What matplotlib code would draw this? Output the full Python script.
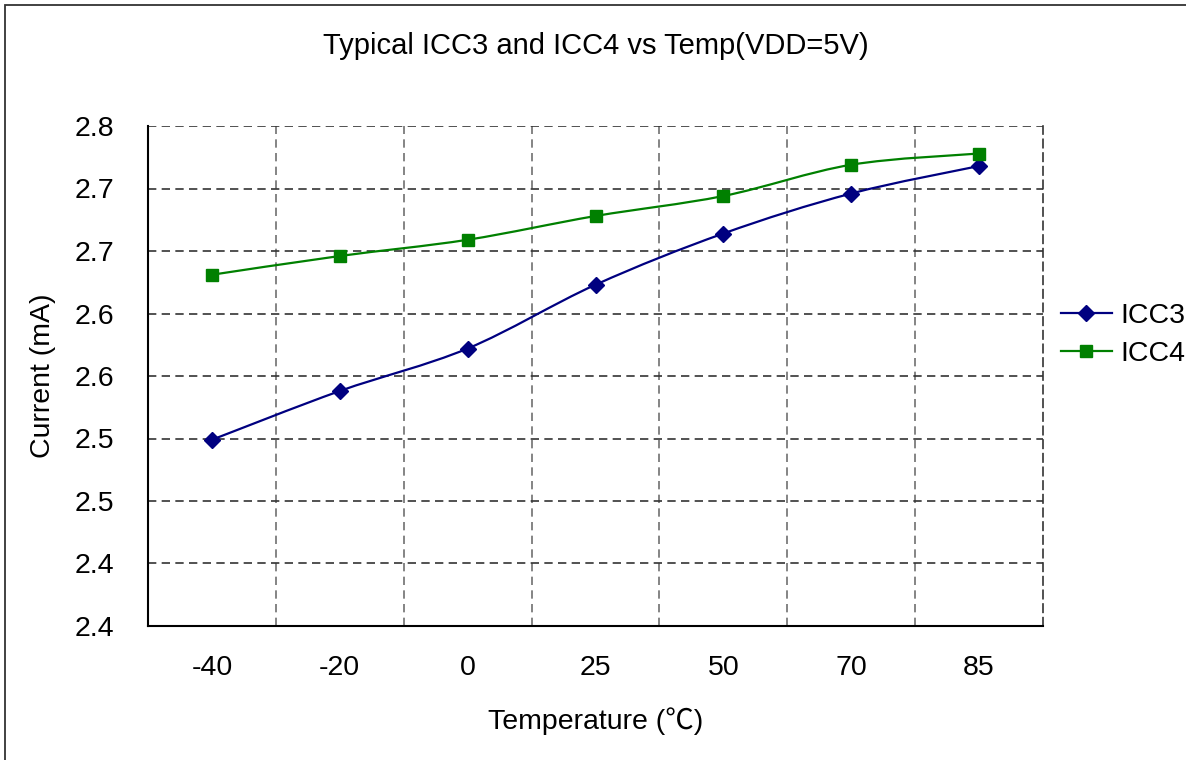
import numpy as np
import matplotlib
matplotlib.use("Agg")
import matplotlib.pyplot as plt
from matplotlib.path import Path
from matplotlib.patches import PathPatch, Rectangle
from matplotlib.lines import Line2D

plt.rcParams["font.family"] = ["Liberation Sans", "Noto Sans CJK SC", "DejaVu Sans"]

# ── Data ───────────────────────────────────────────────────────────────────────
temps = ["-40", "-20", "0", "25", "50", "70", "85"]
icc3 = [2.549, 2.588, 2.622, 2.673, 2.714, 2.746, 2.768]
icc4 = [2.681, 2.696, 2.709, 2.728, 2.744, 2.769, 2.778]
yticks = [2.40, 2.45, 2.50, 2.55, 2.60, 2.65, 2.70, 2.75, 2.80]
ytick_labels = ["2.4", "2.4", "2.5", "2.5", "2.6", "2.6", "2.7", "2.7", "2.8"]

NAVY = "#000080"
GREEN = "#008000"
FS = 20.5
DASH = (0, (5, 3.2))


def smooth_path(xs, ys):
    # Excel-like smoothed line: cubic Bezier through each point
    pts = np.column_stack([xs, ys]).astype(float)
    n = len(pts)
    verts = [pts[0]]
    codes = [Path.MOVETO]
    for i in range(n - 1):
        p0 = pts[max(i - 1, 0)]
        p1 = pts[i]
        p2 = pts[i + 1]
        p3 = pts[min(i + 2, n - 1)]
        verts += [p1 + (p2 - p0) / 6, p2 - (p3 - p1) / 6, p2]
        codes += [Path.CURVE4] * 3
    return Path(verts, codes)


fig = plt.figure(figsize=(11.86, 7.6), dpi=100, facecolor="white")
ax = fig.add_axes([148 / 1186, 134 / 760, 895 / 1186, 500 / 760])

x = np.arange(len(temps))

# Grid
ax.set_xlim(-0.5, len(temps) - 0.5)
ax.set_ylim(yticks[0], yticks[-1])
ax.set_xticks(x)
ax.set_xticklabels(temps, fontsize=FS)
ax.set_xticks(x[:-1] + 0.5, minor=True)
ax.set_yticks(yticks)
ax.set_yticklabels(ytick_labels, fontsize=FS)
ax.tick_params(axis="both", which="both", length=0)
ax.tick_params(axis="y", pad=24)
ax.tick_params(axis="x", pad=21)
ax.grid(axis="y", which="major", color="#333333", ls=DASH, lw=1.2)
ax.grid(axis="x", which="minor", color="#707070", ls=DASH, lw=1.2)
ax.set_axisbelow(True)

for side in ("left", "bottom"):
    ax.spines[side].set_color("black")
    ax.spines[side].set_linewidth(1.5)
ax.spines["top"].set_visible(False)
ax.spines["right"].set_color("#333333")
ax.spines["right"].set_linestyle(DASH)
ax.spines["right"].set_linewidth(1.2)

# Series
for ys, col, mk, ms in ((icc3, NAVY, "D", 8.5), (icc4, GREEN, "s", 8.5)):
    ax.add_patch(PathPatch(smooth_path(x, ys), fc="none", ec=col, lw=1.6, zorder=3))
    ax.plot(x, ys, ls="none", marker=mk, ms=ms, color=col, zorder=4)

handles = [
    Line2D([], [], color=NAVY, lw=1.6, marker="D", ms=8),
    Line2D([], [], color=GREEN, lw=1.6, marker="s", ms=8),
]
fig.legend(handles, ["ICC3", "ICC4"], loc="center left",
           bbox_to_anchor=(1055 / 1186, 1 - 335 / 760), frameon=False,
           fontsize=FS, handlelength=1.8, handletextpad=0.3, labelspacing=0.42,
           borderaxespad=0, borderpad=0.2)

ax.set_xlabel("Temperature (℃)", fontsize=FS, labelpad=19)
ax.set_ylabel("Current (mA)", fontsize=FS, labelpad=14)
fig.text(596 / 1186, 1 - 46 / 760, "Typical ICC3 and ICC4 vs Temp(VDD=5V)",
         fontsize=21, ha="center", va="center")

# Chart area border
fig.patches.append(Rectangle((5 / 1186, -0.1), 1.2, 1.1 - 5 / 760,
                             transform=fig.transFigure, fill=False,
                             ec="#333333", lw=1.3))

fig.savefig("out.png", dpi=100)
